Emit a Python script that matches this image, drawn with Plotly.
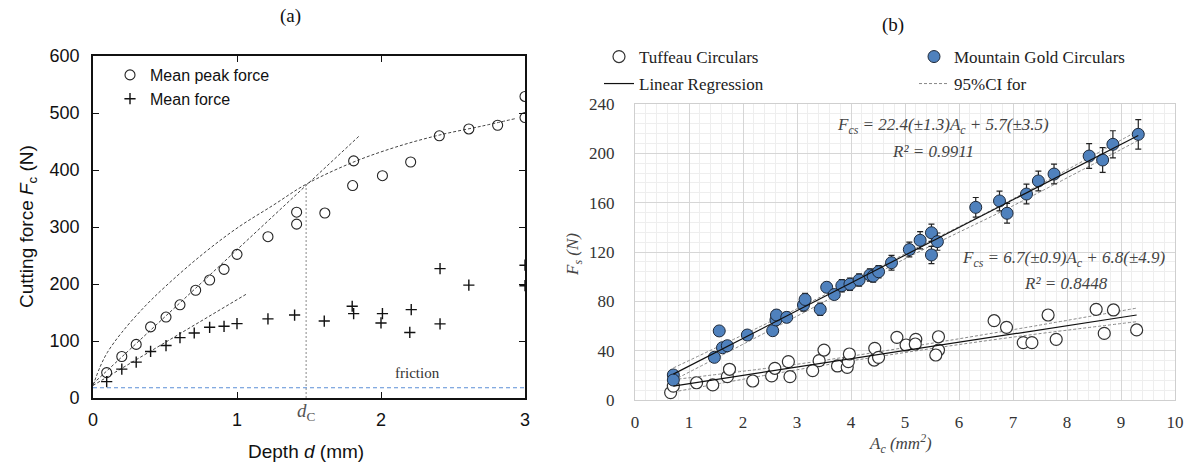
import plotly.graph_objects as go

W, H = 1191, 464

# ---------------- Panel (a) data ----------------
peak_d = [0.095, 0.2, 0.3, 0.4, 0.507, 0.604, 0.713, 0.81, 0.91, 1.0, 1.215, 1.414, 1.414,
          1.61, 1.803, 1.81, 2.01, 2.206, 2.405, 2.61, 2.81, 3.0, 3.0]
peak_f = [44.6, 72.8, 94, 124.7, 142, 163.5, 189, 207, 225.7, 252, 283, 305, 326,
          324.5, 372.7, 416, 390, 414, 460, 472, 478.5, 492, 529]
mean_d = [0.095, 0.2, 0.3, 0.4, 0.507, 0.604, 0.703, 0.81, 0.91, 1.0, 1.215, 1.40, 1.606,
          1.80, 1.81, 2.01, 2.0, 2.21, 2.20, 2.41, 2.41, 2.61, 3.0, 3.0]
mean_f = [28.8, 50.6, 63, 81.7, 92, 106, 114, 124, 125.8, 130.5, 138.8, 145.5, 135,
          161, 148, 148, 131.7, 155, 115, 227, 130, 198, 233, 197]

# fitted curves
curve_d = [0, 0.05, 0.1, 0.2, 0.35, 0.5, 0.75, 1.0, 1.25, 1.48, 1.8, 2.1, 2.4, 2.7, 2.93]
curve_f = [22, 55, 80, 115, 158, 195, 250, 298, 338, 375, 413, 440, 461, 477, 490]
steep_d = [0, 1.85]
steep_f = [25, 460]
low_d = [0, 1.07]
low_f = [22, 183]
dc_d = [1.48, 1.48]
dc_f = [0, 375]
fric_d = [0, 3]
fric_f = [18, 18]

# ---------------- Panel (b) data ----------------
tuf_x = [0.66, 0.71, 1.14, 1.44, 1.71, 1.75, 2.18, 2.53, 2.59, 2.84, 2.87, 3.29, 3.41, 3.5,
         3.75, 3.93, 3.95, 3.97, 4.43, 4.44, 4.51, 4.85, 5.02, 5.2, 5.19, 5.62, 5.62, 5.57,
         6.65, 6.88, 7.19, 7.35, 7.65, 7.8, 8.54, 8.69, 8.86, 9.29]
tuf_y = [6, 11.3, 14, 12.2, 18.9, 24.9, 15.4, 19.5, 25.7, 31.1, 18.9, 23.8, 31.9, 40.5,
         27.6, 26.5, 31.1, 37.3, 32.4, 41.9, 34.6, 50.8, 44.6, 49.2, 45.4, 51.3, 40.5, 36.5,
         64.3, 58.9, 46.5, 46.5, 68.9, 49.2, 73.5, 54, 73, 56.8]
tuf_err = [2, 2, 2, 2, 2, 2, 2, 2, 2, 3, 2, 3, 3, 3,
           3, 3, 3, 3, 3, 3, 3, 3, 3, 3, 3, 3, 3, 3,
           4, 4, 3, 3, 4, 3, 4, 3, 4, 3]
gold_x = [0.71, 0.71, 1.47, 1.56, 1.62, 1.71, 2.08, 2.55, 2.61, 2.62, 2.81, 3.12, 3.15, 3.43,
          3.55, 3.69, 3.83, 3.98, 4.15, 4.35, 4.41, 4.51, 4.75, 5.08, 5.28, 5.49, 5.6, 5.49,
          6.31, 6.75, 6.89, 7.25, 7.47, 7.76, 8.41, 8.66, 8.85, 9.32]
gold_y = [20.3, 16.2, 34.6, 56, 42.4, 44, 52.7, 56.2, 64.9, 68.9, 67, 77, 81.5, 73.5,
          91.4, 85.5, 92.7, 93.9, 97.3, 101.4, 100.5, 104, 111.3, 122, 129.5, 135.6, 128.4, 117.6,
          156.2, 161.4, 151.4, 167, 177.6, 183.2, 197.8, 194.6, 207.3, 215.4]
gold_err = [3, 3, 3, 3, 3, 3, 3, 3, 4, 4, 4, 5, 5, 5,
            4, 4, 5, 5, 5, 5, 5, 5, 6, 6, 7, 7, 7, 7,
            8, 8, 8, 8, 8, 8, 10, 10, 11, 12]

gold_fit_x = [0.71, 9.32]
gold_fit_y = [21.0, 214.5]
gold_ci_x = [0.71, 3.0, 5.0, 7.0, 9.32]
gold_ci_hi = [26.0, 74.0, 118.5, 163.0, 218.5]
gold_ci_lo = [16.0, 68.0, 114.5, 157.5, 210.5]
tuf_fit_x = [0.71, 9.29]
tuf_fit_y = [11.3, 68.9]
tuf_ci_x = [0.71, 3.0, 5.0, 7.0, 9.29]
tuf_ci_hi = [16.5, 29.0, 42.5, 57.0, 74.5]
tuf_ci_lo = [6.5, 24.5, 38.5, 51.0, 63.5]

SANS = "Liberation Sans"
SERIF = "Liberation Serif"

fig = go.Figure()

dash_a = "3px,2px"
fig.add_trace(go.Scatter(x=curve_d, y=curve_f, mode="lines", line=dict(color="#444", width=1, dash=dash_a, shape="spline"),
                         showlegend=False, xaxis="x", yaxis="y"))
fig.add_trace(go.Scatter(x=steep_d, y=steep_f, mode="lines", line=dict(color="#444", width=1, dash=dash_a),
                         showlegend=False, xaxis="x", yaxis="y"))
fig.add_trace(go.Scatter(x=low_d, y=low_f, mode="lines", line=dict(color="#444", width=1, dash=dash_a),
                         showlegend=False, xaxis="x", yaxis="y"))
fig.add_trace(go.Scatter(x=dc_d, y=dc_f, mode="lines", line=dict(color="#888", width=1, dash="2px,2px"),
                         showlegend=False, xaxis="x", yaxis="y"))
fig.add_trace(go.Scatter(x=fric_d, y=fric_f, mode="lines", line=dict(color="#5b8fd6", width=1.2, dash="4px,3px"),
                         showlegend=False, xaxis="x", yaxis="y"))
fig.add_trace(go.Scatter(x=peak_d, y=peak_f, mode="markers", name="Mean peak force",
                         marker=dict(symbol="circle-open", size=10, color="#222", line=dict(width=1.1)),
                         xaxis="x", yaxis="y", legend="legend"))
fig.add_trace(go.Scatter(x=mean_d, y=mean_f, mode="markers", name="Mean force",
                         marker=dict(symbol="cross-thin-open", size=8, color="#111", line=dict(width=1.4, color="#111")),
                         xaxis="x", yaxis="y", legend="legend"))

# Panel (b)
ci_line = dict(color="#888", width=1, dash="3px,2px")
fig.add_trace(go.Scatter(x=gold_ci_x, y=gold_ci_hi, mode="lines", line=dict(**ci_line, shape="spline"),
                         name="95%CI for", legend="legend5", xaxis="x2", yaxis="y2"))
fig.add_trace(go.Scatter(x=gold_ci_x, y=gold_ci_lo, mode="lines", line=dict(**ci_line, shape="spline"),
                         showlegend=False, xaxis="x2", yaxis="y2"))
fig.add_trace(go.Scatter(x=tuf_ci_x, y=tuf_ci_hi, mode="lines", line=dict(**ci_line, shape="spline"),
                         showlegend=False, xaxis="x2", yaxis="y2"))
fig.add_trace(go.Scatter(x=tuf_ci_x, y=tuf_ci_lo, mode="lines", line=dict(**ci_line, shape="spline"),
                         showlegend=False, xaxis="x2", yaxis="y2"))
fig.add_trace(go.Scatter(x=tuf_x, y=tuf_y, mode="markers", name="Tuffeau Circulars",
                         marker=dict(symbol="circle", size=12, color="white", line=dict(width=1.2, color="#333")),
                         error_y=dict(type="data", array=tuf_err, color="#222", thickness=1.2, width=3),
                         legend="legend2", xaxis="x2", yaxis="y2"))
fig.add_trace(go.Scatter(x=gold_x, y=gold_y, mode="markers", name="Mountain Gold Circulars",
                         marker=dict(symbol="circle", size=12, color="#4f81bd", line=dict(width=1, color="#1f2a3a")),
                         error_y=dict(type="data", array=gold_err, color="#222", thickness=1.2, width=3),
                         legend="legend3", xaxis="x2", yaxis="y2"))
fig.add_trace(go.Scatter(x=gold_fit_x, y=gold_fit_y, mode="lines", line=dict(color="#111", width=1.2),
                         name="Linear Regression", legend="legend4", xaxis="x2", yaxis="y2"))
fig.add_trace(go.Scatter(x=tuf_fit_x, y=tuf_fit_y, mode="lines", line=dict(color="#111", width=1.2),
                         showlegend=False, xaxis="x2", yaxis="y2"))


def px(x):
    return x / W


def py(y):
    return 1 - y / H


ann = []
ann.append(dict(text="(a)", x=px(290), y=py(16), font=dict(family=SERIF, size=19, color="#111")))
ann.append(dict(text="(b)", x=px(893), y=py(25), font=dict(family=SERIF, size=19, color="#111")))
ann.append(dict(text="Cutting force <i>F</i><sub>c</sub> (N)", x=px(28), y=py(227), textangle=-90,
                font=dict(family=SANS, size=19, color="#111")))
ann.append(dict(text="Depth <i>d</i> (mm)", x=px(306), y=py(451), font=dict(family=SANS, size=19, color="#111")))
ann.append(dict(text="<i>d</i><sub>C</sub>", x=1.48, xref="x", y=py(412), font=dict(family=SERIF, size=19, color="#555")))
ann.append(dict(text="friction", x=2.25, xref="x", y=44, yref="y", font=dict(family=SERIF, size=15, color="#333")))
ann.append(dict(text="<i>F<sub>s</sub> (N)</i>", x=px(574), y=py(255), textangle=-90,
                font=dict(family=SERIF, size=17, color="#444")))
ann.append(dict(text="<i>A<sub>c</sub> (mm<sup>2</sup>)</i>", x=px(900), y=py(443),
                font=dict(family=SERIF, size=17, color="#444")))
ann.append(dict(text="<i>F<sub>cs</sub> = 22.4(±1.3)A<sub>c</sub> + 5.7(±3.5)</i>", x=px(943), y=py(126),
                font=dict(family=SERIF, size=17, color="#444")))
ann.append(dict(text="<i>R² = 0.9911</i>", x=px(933), y=py(151), font=dict(family=SERIF, size=17, color="#444")))
ann.append(dict(text="<i>F<sub>cs</sub> = 6.7(±0.9)A<sub>c</sub> + 6.8(±4.9)</i>", x=px(1064), y=py(259),
                font=dict(family=SERIF, size=17, color="#444")))
ann.append(dict(text="<i>R² = 0.8448</i>", x=px(1066), y=py(283), font=dict(family=SERIF, size=17, color="#444")))
for a in ann:
    a.setdefault("xref", "paper")
    a.setdefault("yref", "paper")
    a.update(showarrow=False, xanchor="center", yanchor="middle")

axis_a = dict(showline=True, linecolor="#111", linewidth=1.8, mirror="ticks", ticks="inside", ticklen=6,
              tickwidth=1.2, tickcolor="#111", showgrid=False, zeroline=False, automargin=False,
              tickfont=dict(family=SANS, size=18, color="#111"))
grid_b = dict(showline=True, linecolor="#cfcfcf", linewidth=1, mirror=True, ticks="", showgrid=True,
              gridcolor="#d6d6d6", gridwidth=1, zeroline=False, automargin=False,
              tickfont=dict(family=SERIF, size=17, color="#333"))

fig.update_layout(
    width=W, height=H, margin=dict(l=0, r=0, t=0, b=0, autoexpand=False),
    paper_bgcolor="white", plot_bgcolor="white",
    xaxis=dict(**axis_a, domain=[px(93), px(525)], range=[0, 3], tickvals=[0, 1, 2, 3], anchor="y",
               ticklabelstandoff=4),
    yaxis=dict(**axis_a, domain=[py(398), py(56)], range=[0, 600], tickvals=[0, 100, 200, 300, 400, 500, 600],
               anchor="x", ticklabelstandoff=8),
    xaxis2=dict(**grid_b, domain=[px(635), px(1175)], range=[0, 10], dtick=1, anchor="y2",
                minor=dict(dtick=0.2, showgrid=True, gridcolor="#eeeeee", gridwidth=1), ticklabelstandoff=7),
    yaxis2=dict(**grid_b, domain=[py(400), py(104)], range=[0, 240], dtick=40, anchor="x2",
                minor=dict(dtick=8, showgrid=True, gridcolor="#eeeeee", gridwidth=1), ticklabelstandoff=16),
    legend=dict(x=px(110), y=py(87), xanchor="left", yanchor="middle", bgcolor="rgba(0,0,0,0)",
                font=dict(family=SANS, size=16, color="#111"), tracegroupgap=0),
    legend2=dict(x=px(599), y=py(57), xanchor="left", yanchor="middle", bgcolor="rgba(0,0,0,0)",
                 font=dict(family=SERIF, size=17, color="#222")),
    legend3=dict(x=px(914), y=py(57), xanchor="left", yanchor="middle", bgcolor="rgba(0,0,0,0)",
                 font=dict(family=SERIF, size=17, color="#222")),
    legend4=dict(x=px(599), y=py(84), xanchor="left", yanchor="middle", bgcolor="rgba(0,0,0,0)",
                 font=dict(family=SERIF, size=17, color="#222")),
    legend5=dict(x=px(914), y=py(84), xanchor="left", yanchor="middle", bgcolor="rgba(0,0,0,0)",
                 font=dict(family=SERIF, size=17, color="#222")),
    annotations=ann,
)

fig.write_html("out.html")
